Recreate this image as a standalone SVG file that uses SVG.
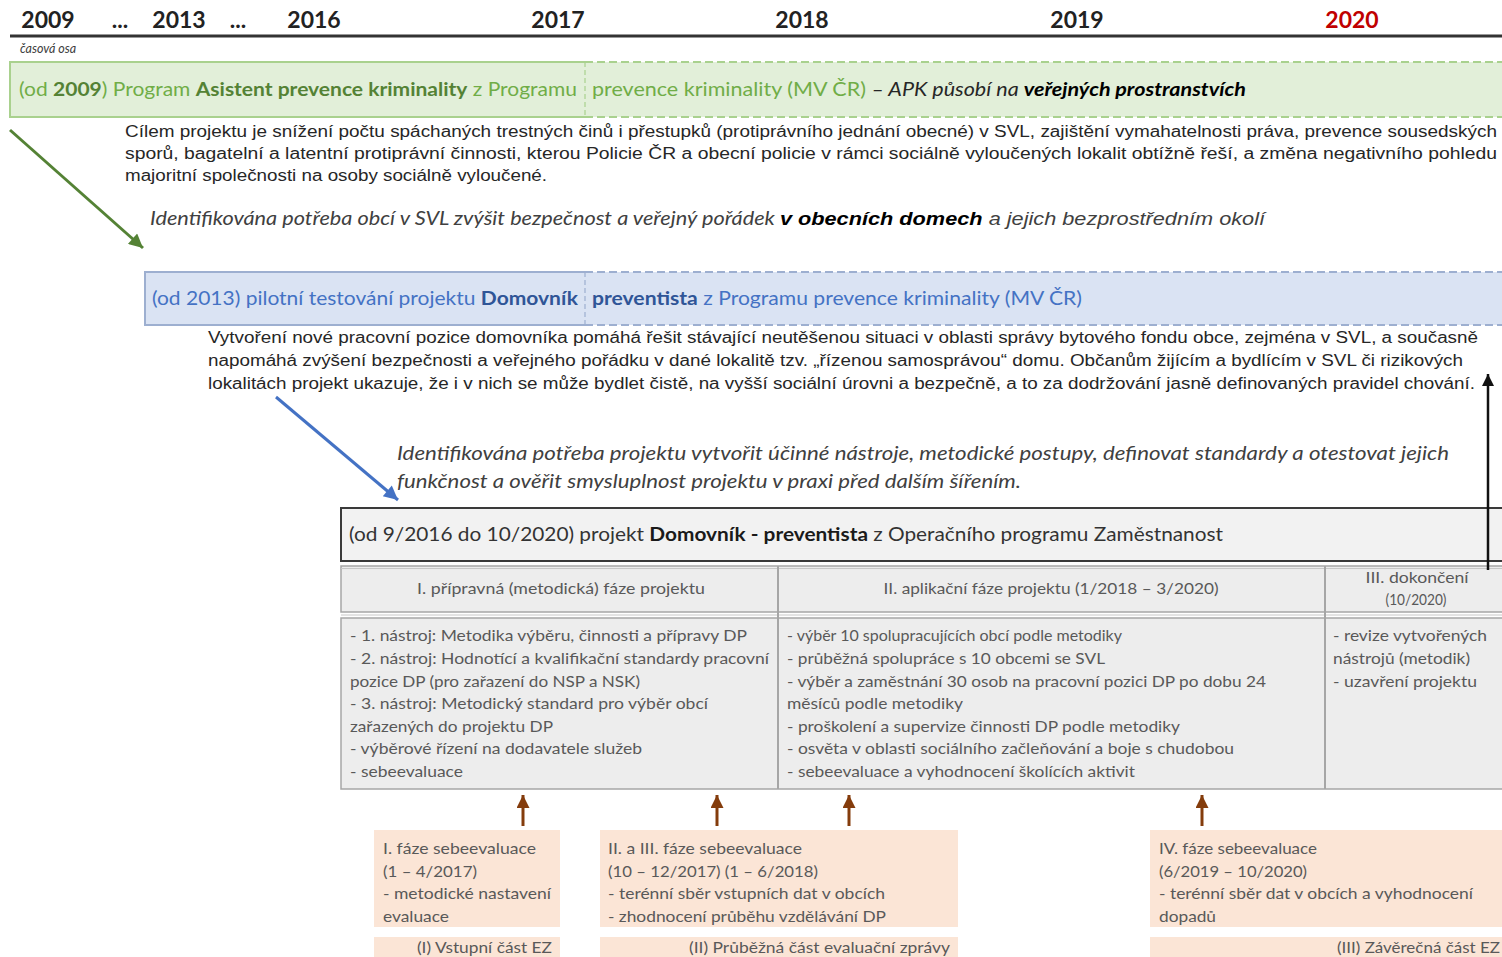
<svg xmlns="http://www.w3.org/2000/svg" width="1502" height="957" viewBox="0 0 1502 957">
<style>
.yr{font-family:Lato,"Open Sans",sans-serif;font-weight:bold;font-size:23px;fill:#222;text-anchor:middle}
.cal{font-family:Lato,"Open Sans",sans-serif}
.par{font-family:"Liberation Sans",Arial,sans-serif;font-size:16px;fill:#262626}
.ital{font-family:Lato,"Open Sans",sans-serif;font-style:italic;font-size:19px;fill:#404040}
.grn{font-family:Lato,"Open Sans",sans-serif;font-size:19px;fill:#70AD47}
.blu{font-family:Lato,"Open Sans",sans-serif;font-size:19px;fill:#4472C4}
.tb{font-family:Lato,"Open Sans",sans-serif;font-size:15px;fill:#595959}
.b{font-weight:bold}
.cell{fill:#EDEDED;stroke:#A6A6A6;stroke-width:1.5}
.peach{fill:#FBE5D6}
</style>
<defs>
<marker id="ah-g" viewBox="0 0 10 10" refX="10" refY="5" markerWidth="18" markerHeight="14" markerUnits="userSpaceOnUse" orient="auto"><path d="M0,0 L10,5 L0,10 z" fill="#548235"/></marker>
<marker id="ah-b" viewBox="0 0 10 10" refX="10" refY="5" markerWidth="18" markerHeight="14" markerUnits="userSpaceOnUse" orient="auto"><path d="M0,0 L10,5 L0,10 z" fill="#4472C4"/></marker>
<marker id="ah-k" viewBox="0 0 10 10" refX="10" refY="5" markerWidth="16" markerHeight="12" markerUnits="userSpaceOnUse" orient="auto"><path d="M0,0 L10,5 L0,10 z" fill="#111"/></marker>
<marker id="ah-r" viewBox="0 0 10 10" refX="10" refY="5" markerWidth="14" markerHeight="13" markerUnits="userSpaceOnUse" orient="auto"><path d="M0,0 L10,5 L0,10 z" fill="#843C0C"/></marker>
</defs>
<rect width="1502" height="957" fill="#fff"/>

<g id="timeline">
<text class="yr" x="48" y="28">2009</text>
<text class="yr" x="120" y="28">...</text>
<text class="yr" x="179" y="28">2013</text>
<text class="yr" x="238" y="28">...</text>
<text class="yr" x="314" y="28">2016</text>
<text class="yr" x="558" y="28">2017</text>
<text class="yr" x="802" y="28">2018</text>
<text class="yr" x="1077" y="28">2019</text>
<text class="yr" x="1352" y="28" style="fill:#C00000">2020</text>
<line x1="10" y1="36" x2="1502" y2="36" stroke="#333" stroke-width="3"/>
<text class="cal" x="20" y="53" font-size="12.5" font-style="italic" fill="#404040">časová osa</text>
</g>

<g id="apk">
<rect x="10" y="62" width="1492" height="55" fill="#E2EFD9"/>
<path d="M585,62 H10 V117 H585" fill="none" stroke="#A9D18E" stroke-width="2"/>
<path d="M585,62 H1502 M585,117 H1502" fill="none" stroke="#A9D18E" stroke-width="2" stroke-dasharray="8,4"/>
<path d="M585,62 V117" fill="none" stroke="#A9D18E" stroke-width="1.2" stroke-dasharray="5,3"/>
<text class="grn" x="19" y="96" textLength="558" lengthAdjust="spacingAndGlyphs">(od <tspan class="b" fill="#548235">2009</tspan>) Program <tspan class="b" fill="#548235">Asistent prevence kriminality</tspan> z Programu</text>
<text class="grn" x="592" y="96" textLength="654" lengthAdjust="spacingAndGlyphs">prevence kriminality (MV ČR) <tspan fill="#262626" font-style="italic">– APK působí na </tspan><tspan fill="#000" font-style="italic" class="b">veřejných prostranstvích</tspan></text>
</g>

<g id="apk-desc">
<text class="par" x="125" y="137" textLength="1372" lengthAdjust="spacingAndGlyphs">Cílem projektu je snížení počtu spáchaných trestných činů i přestupků (protiprávního jednání obecné) v SVL, zajištění vymahatelnosti práva, prevence sousedských</text>
<text class="par" x="125" y="159" textLength="1372" lengthAdjust="spacingAndGlyphs">sporů, bagatelní a latentní protiprávní činnosti, kterou Policie ČR a obecní policie v rámci sociálně vyloučených lokalit obtížně řeší, a změna negativního pohledu</text>
<text class="par" x="125" y="181" textLength="422" lengthAdjust="spacingAndGlyphs">majoritní společnosti na osoby sociálně vyloučené.</text>
</g>

<g id="need1">
<text class="ital" x="150" y="225" textLength="1115" lengthAdjust="spacingAndGlyphs">Identifikována potřeba obcí v SVL zvýšit bezpečnost a veřejný pořádek <tspan class="b" fill="#000" font-family="Liberation Sans, Arial, sans-serif">v obecních domech</tspan><tspan font-family="Liberation Sans, Arial, sans-serif"> a jejich bezprostředním okolí</tspan></text>
</g>

<g id="pilot">
<rect x="145" y="272" width="1357" height="53" fill="#DAE3F3"/>
<path d="M585,272 H145 V325 H585" fill="none" stroke="#9DAFD0" stroke-width="2"/>
<path d="M585,272 H1502 M585,325 H1502" fill="none" stroke="#9DAFD0" stroke-width="2" stroke-dasharray="8,4"/>
<path d="M585,272 V325" fill="none" stroke="#9DAFD0" stroke-width="1.2" stroke-dasharray="5,3"/>
<text class="blu" x="152" y="305" textLength="426" lengthAdjust="spacingAndGlyphs">(od 2013) pilotní testování projektu <tspan class="b" fill="#2F5597">Domovník</tspan></text>
<text class="blu" x="592" y="305" textLength="490" lengthAdjust="spacingAndGlyphs"><tspan class="b" fill="#2F5597">preventista</tspan> z Programu prevence kriminality (MV ČR)</text>
</g>

<g id="pilot-desc">
<text class="par" x="208" y="343" textLength="1270" lengthAdjust="spacingAndGlyphs">Vytvoření nové pracovní pozice domovníka pomáhá řešit stávající neutěšenou situaci v oblasti správy bytového fondu obce, zejména v SVL, a současně</text>
<text class="par" x="208" y="366" textLength="1255" lengthAdjust="spacingAndGlyphs">napomáhá zvýšení bezpečnosti a veřejného pořádku v dané lokalitě tzv. „řízenou samosprávou“ domu. Občanům žijícím a bydlícím v SVL či rizikových</text>
<text class="par" x="208" y="389" textLength="1267" lengthAdjust="spacingAndGlyphs">lokalitách projekt ukazuje, že i v nich se může bydlet čistě, na vyšší sociální úrovni a bezpečně, a to za dodržování jasně definovaných pravidel chování.</text>
</g>

<g id="need2">
<text class="ital" x="397" y="460" textLength="1052" lengthAdjust="spacingAndGlyphs">Identifikována potřeba projektu vytvořit účinné nástroje, metodické postupy, definovat standardy a otestovat jejich</text>
<text class="ital" x="397" y="488" textLength="624" lengthAdjust="spacingAndGlyphs">funkčnost a ověřit smysluplnost projektu v praxi před dalším šířením.</text>
</g>

<g id="project">
<rect x="341" y="508" width="1170" height="53" fill="#F2F2F2" stroke="#3A3A3A" stroke-width="2"/>
<text class="cal" x="349" y="541" font-size="19" fill="#333" textLength="874" lengthAdjust="spacingAndGlyphs">(od 9/2016 do 10/2020) projekt <tspan class="b" fill="#1a1a1a">Domovník - preventista</tspan> z Operačního programu Zaměstnanost</text>
</g>

<g id="phases-header">
<rect class="cell" x="341" y="566" width="1170" height="46"/>
<line x1="341" y1="568.5" x2="1502" y2="568.5" stroke="#C8C8C8" stroke-width="1"/>
<line x1="778" y1="566" x2="778" y2="612" stroke="#A6A6A6" stroke-width="2"/>
<line x1="1325" y1="566" x2="1325" y2="612" stroke="#A6A6A6" stroke-width="2"/>
<text class="tb" x="561" y="594" text-anchor="middle" textLength="288" lengthAdjust="spacingAndGlyphs">I. přípravná (metodická) fáze projektu</text>
<text class="tb" x="1051" y="594" text-anchor="middle" textLength="335" lengthAdjust="spacingAndGlyphs">II. aplikační fáze projektu (1/2018 – 3/2020)</text>
<text class="tb" x="1417" y="583" text-anchor="middle" textLength="103" lengthAdjust="spacingAndGlyphs">III. dokončení</text>
<text class="tb" x="1416" y="605" text-anchor="middle" font-size="12" textLength="61" lengthAdjust="spacingAndGlyphs">(10/2020)</text>
</g>

<g id="phases-body">
<rect class="cell" x="341" y="618" width="1170" height="171"/>
<line x1="341" y1="615" x2="1502" y2="615" stroke="#C8C8C8" stroke-width="1"/>
<line x1="778" y1="612" x2="778" y2="789" stroke="#A6A6A6" stroke-width="2"/>
<line x1="1325" y1="612" x2="1325" y2="789" stroke="#A6A6A6" stroke-width="2"/>
<text class="tb" x="350" y="641" textLength="397" lengthAdjust="spacingAndGlyphs">- 1. nástroj: Metodika výběru, činnosti a přípravy DP</text>
<text class="tb" x="350" y="664" textLength="419" lengthAdjust="spacingAndGlyphs">- 2. nástroj: Hodnotící a kvalifikační standardy pracovní</text>
<text class="tb" x="350" y="687" textLength="290" lengthAdjust="spacingAndGlyphs">pozice DP (pro zařazení do NSP a NSK)</text>
<text class="tb" x="350" y="709" textLength="358" lengthAdjust="spacingAndGlyphs">- 3. nástroj: Metodický standard pro výběr obcí</text>
<text class="tb" x="350" y="732" textLength="203" lengthAdjust="spacingAndGlyphs">zařazených do projektu DP</text>
<text class="tb" x="350" y="754" textLength="292" lengthAdjust="spacingAndGlyphs">- výběrové řízení na dodavatele služeb</text>
<text class="tb" x="350" y="777" textLength="113" lengthAdjust="spacingAndGlyphs">- sebeevaluace</text>
<text class="tb" x="787" y="641" textLength="335" lengthAdjust="spacingAndGlyphs">- výběr 10 spolupracujících obcí podle metodiky</text>
<text class="tb" x="787" y="664" textLength="318" lengthAdjust="spacingAndGlyphs">- průběžná spolupráce s 10 obcemi se SVL</text>
<text class="tb" x="787" y="687" textLength="479" lengthAdjust="spacingAndGlyphs">- výběr a zaměstnání 30 osob na pracovní pozici DP po dobu 24</text>
<text class="tb" x="787" y="709" textLength="176" lengthAdjust="spacingAndGlyphs">měsíců podle metodiky</text>
<text class="tb" x="787" y="732" textLength="393" lengthAdjust="spacingAndGlyphs">- proškolení a supervize činnosti DP podle metodiky</text>
<text class="tb" x="787" y="754" textLength="447" lengthAdjust="spacingAndGlyphs">- osvěta v oblasti sociálního začleňování a boje s chudobou</text>
<text class="tb" x="787" y="777" textLength="348" lengthAdjust="spacingAndGlyphs">- sebeevaluace a vyhodnocení školících aktivit</text>
<text class="tb" x="1333" y="641" textLength="154" lengthAdjust="spacingAndGlyphs">- revize vytvořených</text>
<text class="tb" x="1333" y="664" textLength="137" lengthAdjust="spacingAndGlyphs">nástrojů (metodik)</text>
<text class="tb" x="1333" y="687" textLength="144" lengthAdjust="spacingAndGlyphs">- uzavření projektu</text>
</g>

<g id="eval1">
<rect class="peach" x="374" y="830" width="186" height="97"/>
<text class="tb" x="383" y="854" textLength="153" lengthAdjust="spacingAndGlyphs">I. fáze sebeevaluace</text>
<text class="tb" x="383" y="877" textLength="94" lengthAdjust="spacingAndGlyphs">(1 – 4/2017)</text>
<text class="tb" x="383" y="899" textLength="168" lengthAdjust="spacingAndGlyphs">- metodické nastavení</text>
<text class="tb" x="383" y="922" textLength="66" lengthAdjust="spacingAndGlyphs">evaluace</text>
</g>
<g id="report1">
<rect class="peach" x="374" y="937" width="186" height="20"/>
<text class="tb" x="552" y="953" text-anchor="end" textLength="135" lengthAdjust="spacingAndGlyphs">(I) Vstupní část EZ</text>
</g>
<g id="eval2">
<rect class="peach" x="600" y="830" width="358" height="97"/>
<text class="tb" x="608" y="854" textLength="194" lengthAdjust="spacingAndGlyphs">II. a III. fáze sebeevaluace</text>
<text class="tb" x="608" y="877" textLength="210" lengthAdjust="spacingAndGlyphs">(10 – 12/2017) (1 – 6/2018)</text>
<text class="tb" x="608" y="899" textLength="277" lengthAdjust="spacingAndGlyphs">- terénní sběr vstupních dat v obcích</text>
<text class="tb" x="608" y="922" textLength="278" lengthAdjust="spacingAndGlyphs">- zhodnocení průběhu vzdělávání DP</text>
</g>
<g id="report2">
<rect class="peach" x="600" y="937" width="358" height="20"/>
<text class="tb" x="950" y="953" text-anchor="end" textLength="261" lengthAdjust="spacingAndGlyphs">(II) Průběžná část evaluační zprávy</text>
</g>
<g id="eval3">
<rect class="peach" x="1150" y="830" width="352" height="97"/>
<text class="tb" x="1159" y="854" textLength="158" lengthAdjust="spacingAndGlyphs">IV. fáze sebeevaluace</text>
<text class="tb" x="1159" y="877" textLength="148" lengthAdjust="spacingAndGlyphs">(6/2019 – 10/2020)</text>
<text class="tb" x="1159" y="899" textLength="314" lengthAdjust="spacingAndGlyphs">- terénní sběr dat v obcích a vyhodnocení</text>
<text class="tb" x="1159" y="922" textLength="57" lengthAdjust="spacingAndGlyphs">dopadů</text>
</g>
<g id="report3">
<rect class="peach" x="1150" y="937" width="352" height="20"/>
<text class="tb" x="1500" y="953" text-anchor="end" textLength="163" lengthAdjust="spacingAndGlyphs">(III) Závěrečná část EZ</text>
</g>

<g id="connectors" fill="none">
<line x1="10" y1="130" x2="143" y2="248" stroke="#548235" stroke-width="3" marker-end="url(#ah-g)"/>
<line x1="276" y1="397" x2="398" y2="500" stroke="#4472C4" stroke-width="3" marker-end="url(#ah-b)"/>
<line x1="1488" y1="570" x2="1488" y2="374" stroke="#111" stroke-width="2.5" marker-end="url(#ah-k)"/>
<line x1="523" y1="826" x2="523" y2="795" stroke="#843C0C" stroke-width="3" marker-end="url(#ah-r)"/>
<line x1="717" y1="826" x2="717" y2="795" stroke="#843C0C" stroke-width="3" marker-end="url(#ah-r)"/>
<line x1="849" y1="826" x2="849" y2="795" stroke="#843C0C" stroke-width="3" marker-end="url(#ah-r)"/>
<line x1="1202" y1="826" x2="1202" y2="795" stroke="#843C0C" stroke-width="3" marker-end="url(#ah-r)"/>
</g>
</svg>
